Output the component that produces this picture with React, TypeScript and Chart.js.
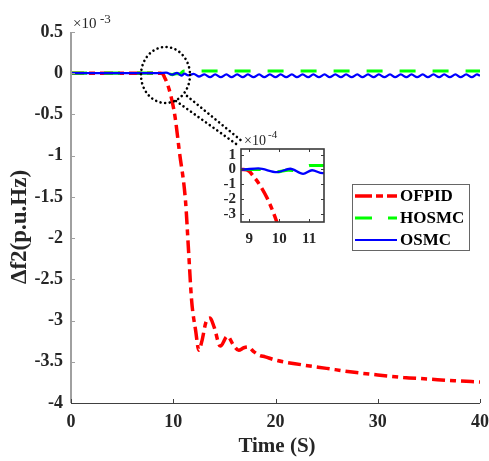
import React, { useEffect, useRef } from "react";
import { Chart, registerables } from "chart.js";
Chart.register(...registerables);

// ---- data (values in ×10^-3 p.u.Hz) ----
const ofpidT = [0, 8.8, 9.0, 9.13, 9.3, 9.59, 9.92, 10.2, 10.6, 11.2, 11.5, 11.8, 12.2, 12.5, 12.8, 13.2, 13.6, 14.0, 14.6, 15.3, 15.9, 16.4, 16.9, 17.3, 17.9, 18.4, 19.0, 20, 22.5, 25, 27.5, 30, 32.5, 35, 37.5, 40];
const ofpidV = [0, 0, -0.012, -0.045, -0.09, -0.192, -0.356, -0.55, -0.95, -1.55, -2.16, -2.76, -3.13, -3.36, -3.25, -3.02, -2.97, -3.08, -3.31, -3.19, -3.3, -3.36, -3.33, -3.32, -3.38, -3.42, -3.44, -3.48, -3.535, -3.58, -3.625, -3.66, -3.69, -3.71, -3.73, -3.745];

const hosmcT = [0, 9.4, 9.92, 10.3, 10.63, 11.03, 11.5, 40];
const hosmcV = [0, 0, -0.016, -0.004, -0.01, 0.027, 0.027, 0.027];

const osmcT = [0, 8.72, 9.3, 9.92, 10.37, 10.8, 11.1, 11.45, 12.0, 12.5, 13.05, 13.6, 14.1, 14.65, 15.2, 15.7, 16.25, 16.8, 17.3, 17.85, 18.4, 18.9, 19.45, 20.0, 20.5, 21.05, 21.6, 22.1, 22.65, 23.2, 23.7, 24.25, 24.8, 25.3, 25.85, 26.4, 26.9, 27.45, 28.0, 28.5, 29.05, 29.6, 30.1, 30.65, 31.2, 31.7, 32.25, 32.8, 33.3, 33.85, 34.4, 34.9, 35.45, 36.0, 36.5, 37.05, 37.6, 38.1, 38.65, 39.2, 39.7, 40];
const osmcV = [0, 0, 0.007, -0.018, 0.005, -0.03, -0.005, -0.025, -0.008, -0.04, -0.015, -0.048, -0.015, -0.048, -0.015, -0.048, -0.015, -0.048, -0.015, -0.048, -0.015, -0.048, -0.015, -0.048, -0.015, -0.048, -0.015, -0.048, -0.015, -0.048, -0.015, -0.048, -0.015, -0.048, -0.015, -0.048, -0.015, -0.048, -0.015, -0.048, -0.015, -0.048, -0.015, -0.048, -0.015, -0.048, -0.015, -0.048, -0.015, -0.048, -0.015, -0.048, -0.015, -0.048, -0.015, -0.048, -0.015, -0.048, -0.015, -0.048, -0.015, -0.03];

const xTicks = [0, 10, 20, 30, 40];
const yTicks = [0.5, 0, -0.5, -1, -1.5, -2, -2.5, -3, -3.5, -4];
const insetXTicks = [9, 10, 11];
const insetYTicks = [1, 0, -1, -2, -3]; // ×10^-4

const seriesNames = ["OFPID", "HOSMC", "OSMC"];
const seriesColors = ["#ff0000", "#00ff00", "#0000ff"];

const FONT = '"Liberation Serif", "Times New Roman", serif';
const RED_DASH = [13, 5, 6, 5];
const GREEN_DASH = [16, 17];

const toXY = (t: number[], v: number[]) => t.map((x, i) => ({ x, y: v[i] }));

function makeDatasets(): any[] {
  const common = { pointRadius: 0, fill: false, cubicInterpolationMode: "monotone", borderCapStyle: "butt", borderJoinStyle: "round" };
  return [
    { ...common, label: seriesNames[2], data: toXY(osmcT, osmcV), borderColor: seriesColors[2], borderWidth: 2.3, order: 0 },
    { ...common, label: seriesNames[1], data: toXY(hosmcT, hosmcV), borderColor: seriesColors[1], borderWidth: 3.2, borderDash: GREEN_DASH, order: 1 },
    { ...common, label: seriesNames[0], data: toXY(ofpidT, ofpidV), borderColor: seriesColors[0], borderWidth: 3.5, borderDash: RED_DASH, order: 2 },
  ];
}

const mainDecor = {
  id: "mainDecor",
  afterDraw(chart: any) {
    const { ctx, chartArea: a, scales } = chart;
    const x = scales.x, y = scales.y;
    ctx.save();
    // left axis
    ctx.strokeStyle = "#a0a0a0";
    ctx.lineWidth = 2;
    ctx.beginPath();
    ctx.moveTo(a.left, a.top);
    ctx.lineTo(a.left, a.bottom);
    ctx.stroke();
    ctx.lineWidth = 1.2;
    ctx.beginPath();
    yTicks.forEach((v) => {
      const py = Math.round(y.getPixelForValue(v)) + 0.5;
      ctx.moveTo(a.left, py);
      ctx.lineTo(a.left + 4, py);
    });
    ctx.stroke();
    // bottom axis
    ctx.strokeStyle = "#404040";
    ctx.lineWidth = 1;
    ctx.beginPath();
    ctx.moveTo(a.left, a.bottom + 0.5);
    ctx.lineTo(a.right, a.bottom + 0.5);
    xTicks.forEach((v) => {
      const px = Math.round(x.getPixelForValue(v)) + 0.5;
      ctx.moveTo(px, a.bottom);
      ctx.lineTo(px, a.bottom - 4);
    });
    ctx.stroke();

    // exponent label
    ctx.fillStyle = "#262626";
    ctx.textBaseline = "alphabetic";
    ctx.textAlign = "left";
    ctx.font = `15px ${FONT}`;
    ctx.fillText("×10", a.left + 2, 28);
    ctx.font = `13px ${FONT}`;
    ctx.fillText("-3", a.left + 29, 23);

    // axis titles
    ctx.font = `bold 21px ${FONT}`;
    ctx.textAlign = "center";
    ctx.textBaseline = "middle";
    ctx.fillText("Time (S)", 277, 447);
    ctx.save();
    ctx.translate(20, 227);
    ctx.rotate(-Math.PI / 2);
    ctx.font = `bold 23px ${FONT}`;
    ctx.fillText("Δf2(p.u.Hz)", 0, 0);
    ctx.restore();

    // dotted zoom ellipse and connectors
    ctx.strokeStyle = "#000";
    ctx.lineWidth = 2.6;
    ctx.lineCap = "round";
    ctx.setLineDash([0.01, 4.6]);
    ctx.beginPath();
    ctx.ellipse(165.5, 75, 24.5, 28, 0, 0, Math.PI * 2);
    ctx.stroke();
    ctx.beginPath();
    ctx.moveTo(176, 101);
    ctx.lineTo(239, 146);
    ctx.moveTo(187, 96);
    ctx.lineTo(243, 142);
    ctx.stroke();
    ctx.setLineDash([]);
    ctx.lineCap = "butt";

    // legend
    const lx = 352, ly = 184, lw = 117, lh = 66;
    ctx.fillStyle = "#fff";
    ctx.fillRect(lx, ly, lw, lh);
    ctx.strokeStyle = "#666";
    ctx.lineWidth = 1;
    ctx.strokeRect(lx + 0.5, ly + 0.5, lw, lh);
    const rows = [196, 218, 240];
    const dashes = [[17, 4, 7, 4, 10], [17, 16], []];
    const widths = [3.5, 3, 2];
    rows.forEach((ry, i) => {
      ctx.strokeStyle = seriesColors[i];
      ctx.lineWidth = widths[i];
      ctx.setLineDash(dashes[i]);
      ctx.beginPath();
      ctx.moveTo(355, ry);
      ctx.lineTo(397, ry);
      ctx.stroke();
      ctx.setLineDash([]);
      ctx.fillStyle = "#000";
      ctx.font = `bold 17px ${FONT}`;
      ctx.textAlign = "left";
      ctx.textBaseline = "middle";
      ctx.fillText(seriesNames[i], 400, ry + 1);
    });
    ctx.restore();
  },
};

const insetDecor = {
  id: "insetDecor",
  beforeDatasetsDraw(chart: any) {
    const { ctx, chartArea: a } = chart;
    ctx.save();
    ctx.fillStyle = "#fff";
    ctx.fillRect(a.left, a.top, a.right - a.left, a.bottom - a.top);
    ctx.restore();
  },
  afterDraw(chart: any) {
    const { ctx, chartArea: a, scales } = chart;
    const x = scales.x, y = scales.y;
    ctx.save();
    ctx.strokeStyle = "#3a3a3a";
    ctx.lineWidth = 1.6;
    ctx.strokeRect(a.left, a.top, a.right - a.left, a.bottom - a.top);
    ctx.lineWidth = 1;
    ctx.beginPath();
    insetYTicks.forEach((v) => {
      const py = Math.round(y.getPixelForValue(v / 10)) + 0.5;
      ctx.moveTo(a.left, py);
      ctx.lineTo(a.left + 3, py);
      ctx.moveTo(a.right, py);
      ctx.lineTo(a.right - 3, py);
    });
    insetXTicks.forEach((v) => {
      const px = Math.round(x.getPixelForValue(v)) + 0.5;
      ctx.moveTo(px, a.bottom);
      ctx.lineTo(px, a.bottom - 3);
      ctx.moveTo(px, a.top);
      ctx.lineTo(px, a.top + 3);
    });
    ctx.stroke();
    ctx.fillStyle = "#262626";
    ctx.textAlign = "left";
    ctx.textBaseline = "alphabetic";
    ctx.font = `14px ${FONT}`;
    ctx.fillText("×10", a.left + 3, a.top - 4);
    ctx.font = `11px ${FONT}`;
    ctx.fillText("-4", a.left + 27, a.top - 11);
    ctx.restore();
  },
};

const noPadX = (h: number) => (s: any) => { s.height = h; s.paddingLeft = 0; s.paddingRight = 0; };
const noPadY = (w: number) => (s: any) => { s.width = w; s.paddingTop = 0; s.paddingBottom = 0; };

export default function App() {
  const mainRef = useRef<HTMLCanvasElement>(null);
  const insetRef = useRef<HTMLCanvasElement>(null);

  useEffect(() => {
    const tickFont = { family: FONT, size: 18, weight: "bold" as const };
    const main = new Chart(mainRef.current as HTMLCanvasElement, {
      type: "line",
      data: { datasets: makeDatasets() },
      options: {
        animation: false,
        responsive: false,
        devicePixelRatio: 1,
        events: [],
        layout: { padding: { top: 32, right: 9, left: 0, bottom: 0 } },
        plugins: { legend: { display: false }, tooltip: { enabled: false } },
        scales: {
          x: {
            type: "linear",
            min: 0,
            max: 40,
            grid: { display: false, drawTicks: false },
            border: { display: false },
            afterBuildTicks: (s: any) => { s.ticks = xTicks.map((v) => ({ value: v })); },
            afterFit: noPadX(58),
            ticks: { font: tickFont, color: "#262626", padding: 9, maxRotation: 0, autoSkip: false, callback: (v: any) => String(v) },
          },
          y: {
            type: "linear",
            min: -4,
            max: 0.5,
            grid: { display: false, drawTicks: false },
            border: { display: false },
            afterBuildTicks: (s: any) => { s.ticks = yTicks.map((v) => ({ value: v })); },
            afterFit: noPadY(71),
            ticks: { font: tickFont, color: "#262626", padding: 8, autoSkip: false, callback: (v: any) => String(v) },
          },
        },
      } as any,
      plugins: [mainDecor],
    });

    const insetFont = { family: FONT, size: 15, weight: "bold" as const };
    const inset = new Chart(insetRef.current as HTMLCanvasElement, {
      type: "line",
      data: { datasets: makeDatasets() },
      options: {
        animation: false,
        responsive: false,
        devicePixelRatio: 1,
        events: [],
        layout: { padding: { top: 24, right: 11, left: 0, bottom: 0 } },
        plugins: { legend: { display: false }, tooltip: { enabled: false } },
        scales: {
          x: {
            type: "linear",
            min: 8.72,
            max: 11.5,
            grid: { display: false, drawTicks: false },
            border: { display: false },
            afterBuildTicks: (s: any) => { s.ticks = insetXTicks.map((v) => ({ value: v })); },
            afterFit: noPadX(28),
            ticks: { font: insetFont, color: "#262626", padding: 8, maxRotation: 0, autoSkip: false, callback: (v: any) => String(v) },
          },
          y: {
            type: "linear",
            min: -0.356,
            max: 0.139,
            grid: { display: false, drawTicks: false },
            border: { display: false },
            afterBuildTicks: (s: any) => { s.ticks = insetYTicks.map((v) => ({ value: v / 10 })); },
            afterFit: noPadY(36),
            ticks: { font: insetFont, color: "#262626", padding: 5, autoSkip: false, callback: (v: any) => String(Math.round(v * 10)) },
          },
        },
      } as any,
      plugins: [insetDecor],
    });

    return () => {
      main.destroy();
      inset.destroy();
    };
  }, []);

  return (
    <div style={{ position: "absolute", left: 0, top: 0, width: 489, height: 461, background: "#fff" }}>
      <canvas ref={mainRef} width={489} height={461} style={{ position: "absolute", left: 0, top: 0 }} />
      <canvas ref={insetRef} width={130} height={125} style={{ position: "absolute", left: 205, top: 125 }} />
    </div>
  );
}
